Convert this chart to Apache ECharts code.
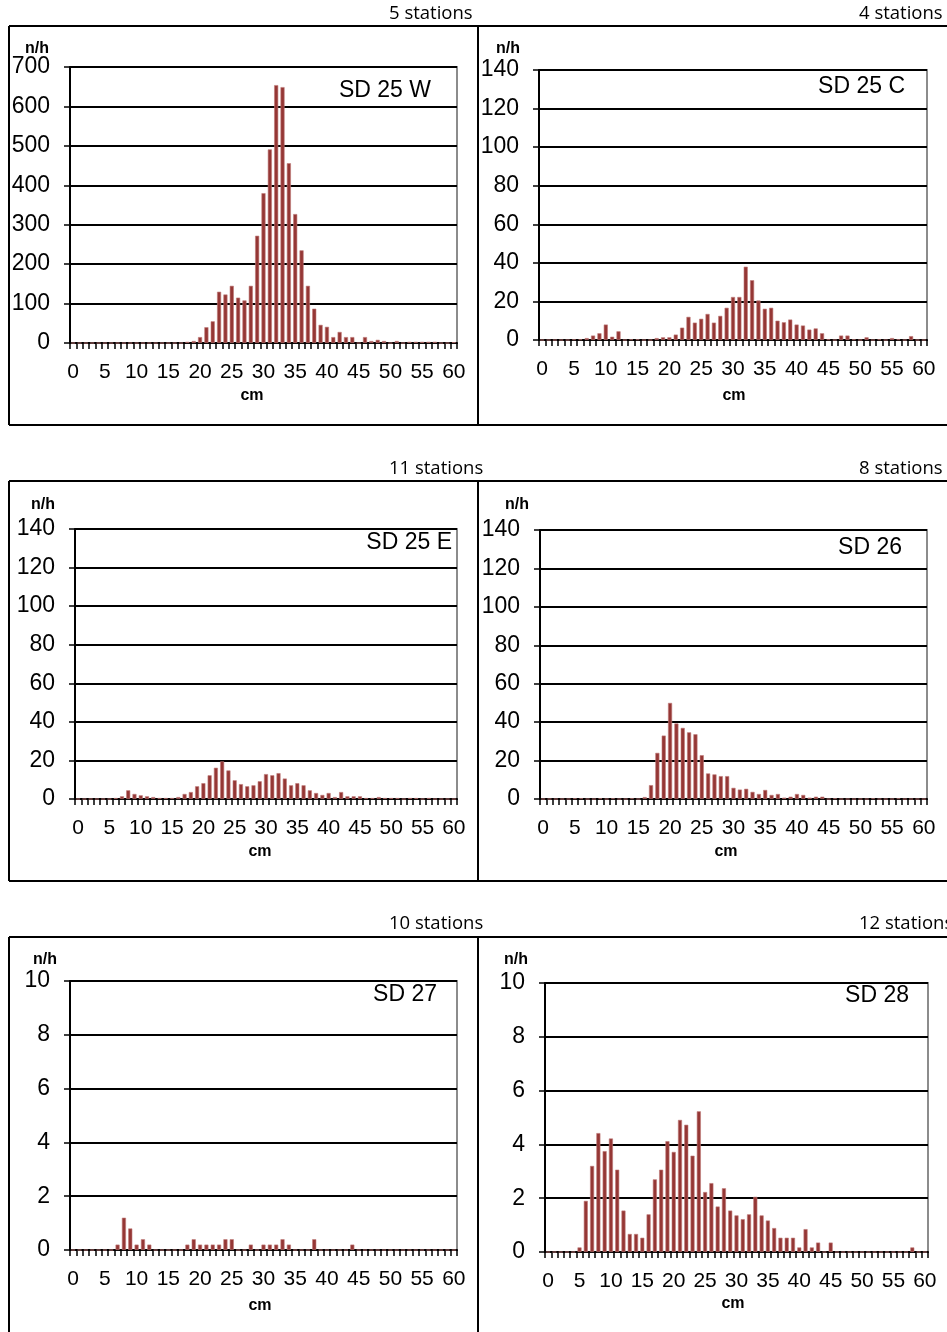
<!DOCTYPE html>
<html>
<head>
<meta charset="utf-8">
<script src="https://cdn.jsdelivr.net/npm/echarts@6/dist/echarts.min.js"></script>
<style>
html,body{margin:0;padding:0;background:#fff;}
#c{width:947px;height:1332px;}
</style>
</head>
<body>
<div id="c"></div>
<script>
// length classes 0..60 cm
var lengths = [];
for (var k = 0; k <= 60; k++) lengths.push(String(k));

var titles = ['SD 25 W', 'SD 25 C', 'SD 25 E', 'SD 26', 'SD 27', 'SD 28'];
var stations = ['5 stations', '4 stations', '11 stations', '8 stations', '10 stations', '12 stations'];
var yMax = [700, 140, 140, 140, 10, 10];
var yStep = [100, 20, 20, 20, 2, 2];

var sd25w = [0,0,0,0,0,0,0,0,0,0, 0,0,0,0,0,0,0,0,3,5, 15,40,55,130,123,145,115,108,145,272, 380,491,654,649,456,327,235,145,87,46, 41,15,28,15,15,0,15,5,8,5, 0,5,0,3,3,3,3,3,0,0, 2];
var sd25c = [0,0,0,0,0,0.3,0.3,1,2.3,3.5, 8,1.7,4.5,0,0.3,0.3,0,0,1,1.4, 1.4,2.8,6.4,12,9,11,13.5,9,12.5,16.7, 22.3,22.3,38,31,20.5,16.2,16.7,10,9.2,10.6, 8,7.5,5.4,6,3.5,0.3,0,2.3,2.3,0.3, 0,1.4,0,0.3,0,1,0.3,0,2,0, 0];
var sd25e = [0,0,0,0,0,0,0.5,1.4,4.5,2.6, 1.9,1.4,1,0.5,0.5,0.5,1,2.6,3.6,6.6, 8.2,12.3,16.2,19.5,14.8,9.7,7.7,6.6,7.1,9.2, 12.9,12.3,13.4,10.6,7.1,8.2,7.1,4.5,3.1,2.1, 3.1,1,3.6,1.4,1.4,1.4,0.5,0.5,1,0.5, 0.5,0.5,0,0.5,0.5,0,0.5,0,0,0, 0];
var sd26 = [0,0,0,0,0,0.3,0.3,0,0,0.3, 0,0.3,0,0,0.3,0,1,7.2,24,33, 50,39.3,37,34.7,33.7,22.8,13.3,12.8,11.9,11.9, 5.8,4.9,5.3,3.7,2.6,4.7,2.1,2.6,0.7,1.2, 2.6,2.1,0.7,1.2,1.2,0,0.3,0,0,0, 0,0,0.3,0,0,0,0.3,0,0,0, 0];
var sd27 = [0,0,0,0,0,0,0,0.2,1.2,0.8, 0.2,0.4,0.2,0,0,0,0,0,0.2,0.4, 0.2,0.2,0.2,0.2,0.4,0.4,0,0,0.2,0, 0.2,0.2,0.2,0.4,0.2,0,0,0,0.4,0, 0,0,0,0,0.2,0,0,0,0,0, 0,0,0,0,0,0,0,0,0,0, 0];
var sd28 = [0,0,0,0,0,0.17,1.9,3.2,4.42,3.75, 4.22,3.06,1.54,0.67,0.67,0.53,1.4,2.7,3.06,4.12, 3.72,4.91,4.73,3.58,5.23,2.23,2.56,1.69,2.37,1.54, 1.36,1.22,1.4,2.05,1.36,1.17,0.89,0.53,0.53,0.53, 0.17,0.85,0.17,0.35,0,0.35,0,0,0,0, 0,0,0,0,0,0,0,0,0.17,0, 0];
var seriesData = [sd25w, sd25c, sd25e, sd26, sd27, sd28];

// layout (pixels)
var grids = [
  {left:70,  top:67,  width:387, height:276},
  {left:539, top:70,  width:388, height:270},
  {left:75,  top:529, width:382, height:270},
  {left:540, top:530, width:387, height:269},
  {left:70,  top:981, width:387, height:269},
  {left:545, top:983, width:383, height:269}
];
var nhPos = [[37,49],[508,49],[43,505],[517,505],[45,960],[516,960]];
var cmPos = [[252,396],[734,396],[260,852],[726,852],[260,1306],[733,1304]];
var titlePos = [[431,91],[905,87],[452,543],[902,548],[437,995],[909,996]];
var stPos = [[389,14],[859,14],[389,469],[859,469],[389,924],[859,924]];

var FONT = '"Liberation Sans", Arial, sans-serif';
var option = {
  animation:false,
  backgroundColor:'#fff',
  grid:[], xAxis:[], yAxis:[], series:[], graphic:[]
};
for (var i = 0; i < 6; i++) {
  var g = grids[i];
  option.grid.push({left:g.left, top:g.top, width:g.width, height:g.height,
    show:true, borderColor:'#8c8c8c', borderWidth:2, backgroundColor:'transparent', containLabel:false});
  option.xAxis.push({type:'category', gridIndex:i, data:lengths, boundaryGap:true,
    axisLine:{show:true, lineStyle:{color:'#000', width:2}},
    axisTick:{show:true, interval:0, length:6, inside:false, lineStyle:{color:'#000', width:1.5}},
    axisLabel:{interval:4, margin:19, fontSize:21, color:'#000', fontFamily:FONT},
    splitLine:{show:false}});
  option.yAxis.push({type:'value', gridIndex:i, min:0, max:yMax[i], interval:yStep[i],
    axisLine:{show:true, lineStyle:{color:'#000', width:2}},
    axisTick:{show:true, length:6, lineStyle:{color:'#000', width:1.5}},
    axisLabel:{margin:20, fontSize:23, color:'#000', fontFamily:FONT},
    splitLine:{show:true, lineStyle:{color:'#000', width:2}}});
  option.series.push({type:'bar', xAxisIndex:i, yAxisIndex:i, data:seriesData[i],
    barCategoryGap:'36%',
    itemStyle:{color:'#953735', borderColor:'#c07a78', borderWidth:0.6}});
  option.graphic.push({type:'text', x:nhPos[i][0], y:nhPos[i][1],
    style:{text:'n/h', font:'bold 16px '+FONT, fill:'#000', align:'center', verticalAlign:'middle'}});
  option.graphic.push({type:'text', x:cmPos[i][0], y:cmPos[i][1],
    style:{text:'cm', font:'bold 16px '+FONT, fill:'#000', align:'center', verticalAlign:'middle'}});
  option.graphic.push({type:'text', x:titlePos[i][0], y:titlePos[i][1],
    style:{text:titles[i], font:'23px '+FONT, fill:'#000', align:'right', verticalAlign:'middle'}});
  option.graphic.push({type:'text', x:stPos[i][0], y:stPos[i][1],
    style:{text:stations[i], font:'18.5px "Open Sans", Lato, sans-serif', fill:'#000', align:'left', verticalAlign:'middle'}});
}
// panel frames
var rows = [[26,425],[481,881],[937,1340]];
rows.forEach(function(r){
  var ln = {stroke:'#000', lineWidth:2};
  option.graphic.push({type:'line', shape:{x1:9,y1:r[0],x2:947,y2:r[0]}, style:ln});
  option.graphic.push({type:'line', shape:{x1:9,y1:r[1],x2:947,y2:r[1]}, style:ln});
  option.graphic.push({type:'line', shape:{x1:9,y1:r[0],x2:9,y2:r[1]}, style:ln});
  option.graphic.push({type:'line', shape:{x1:478,y1:r[0],x2:478,y2:r[1]}, style:ln});
});
var chart = echarts.init(document.getElementById('c'), null, {renderer:'canvas'});
chart.setOption(option);
</script>
</body>
</html>
